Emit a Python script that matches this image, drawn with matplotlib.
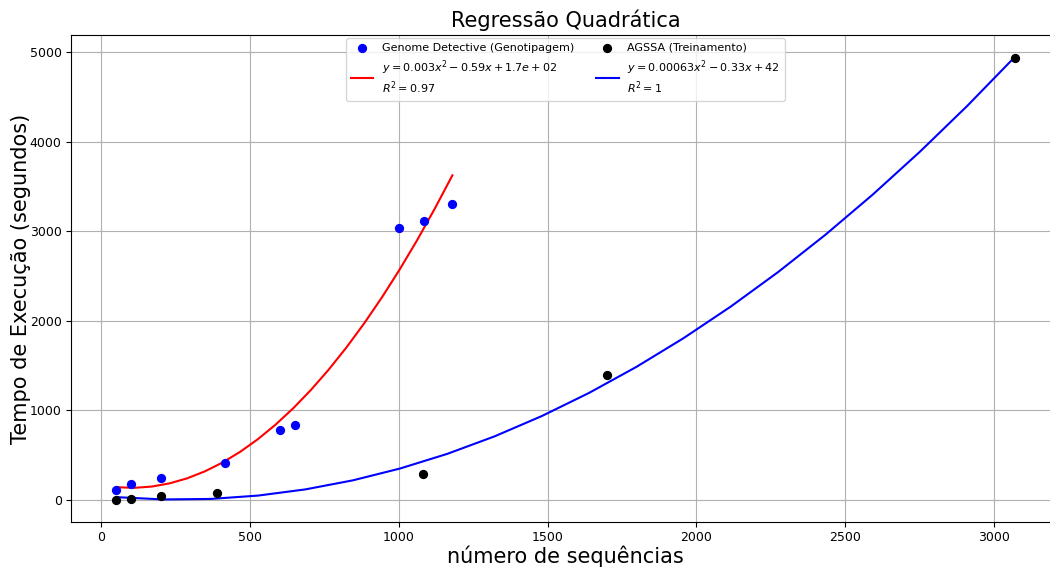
import numpy as np
import matplotlib.pyplot as plt

# Genome Detective (Genotipagem)
gd_x = [50, 100, 200, 415, 600, 650, 1000, 1085, 1180]
gd_y = [115, 180, 240, 410, 780, 840, 3040, 3120, 3300]
gd_rotulo = '$y = 0.003x^2 - 0.59x + 1.7e+02$\n$R^2 = 0.97$'

# AGSSA (Treinamento)
ag_x = [50, 100, 200, 390, 1080, 1700, 3070]
ag_y = [5, 10, 40, 75, 285, 1400, 4930]
ag_rotulo = '$y = 0.00063x^2 - 0.33x + 42$\n$R^2 = 1$'


# ajuste quadratico pelos pontos, curva avaliada em 20 pontos
def ajuste(x, y):
    x = np.array(x, dtype=float)
    y = np.array(y, dtype=float)
    coef = np.polyfit(x, y, 2)
    xs = np.linspace(x.min(), x.max(), 20)
    return xs, np.polyval(coef, xs)


fig, ax = plt.subplots(figsize=(10.5, 5.67), dpi=100)

xs1, ys1 = ajuste(gd_x, gd_y)
xs2, ys2 = ajuste(ag_x, ag_y)

ax.scatter(gd_x, gd_y, color='blue', s=32, label='Genome Detective (Genotipagem)', zorder=3)
ax.plot(xs1, ys1, color='red', label=gd_rotulo)
ax.scatter(ag_x, ag_y, color='black', s=32, label='AGSSA (Treinamento)', zorder=3)
ax.plot(xs2, ys2, color='blue', label=ag_rotulo)

ax.set_title('Regressão Quadrática', fontsize=15)
ax.set_xlabel('número de sequências', fontsize=15, labelpad=1)
ax.set_ylabel('Tempo de Execução (segundos)', fontsize=15, labelpad=-1)
ax.tick_params(labelsize=9)
ax.grid(True)
ax.legend(loc='upper center', ncol=2, fontsize=8, borderaxespad=0.3)

fig.subplots_adjust(left=0.068, right=1.009, top=0.938, bottom=0.08)
fig.savefig('out.png')
